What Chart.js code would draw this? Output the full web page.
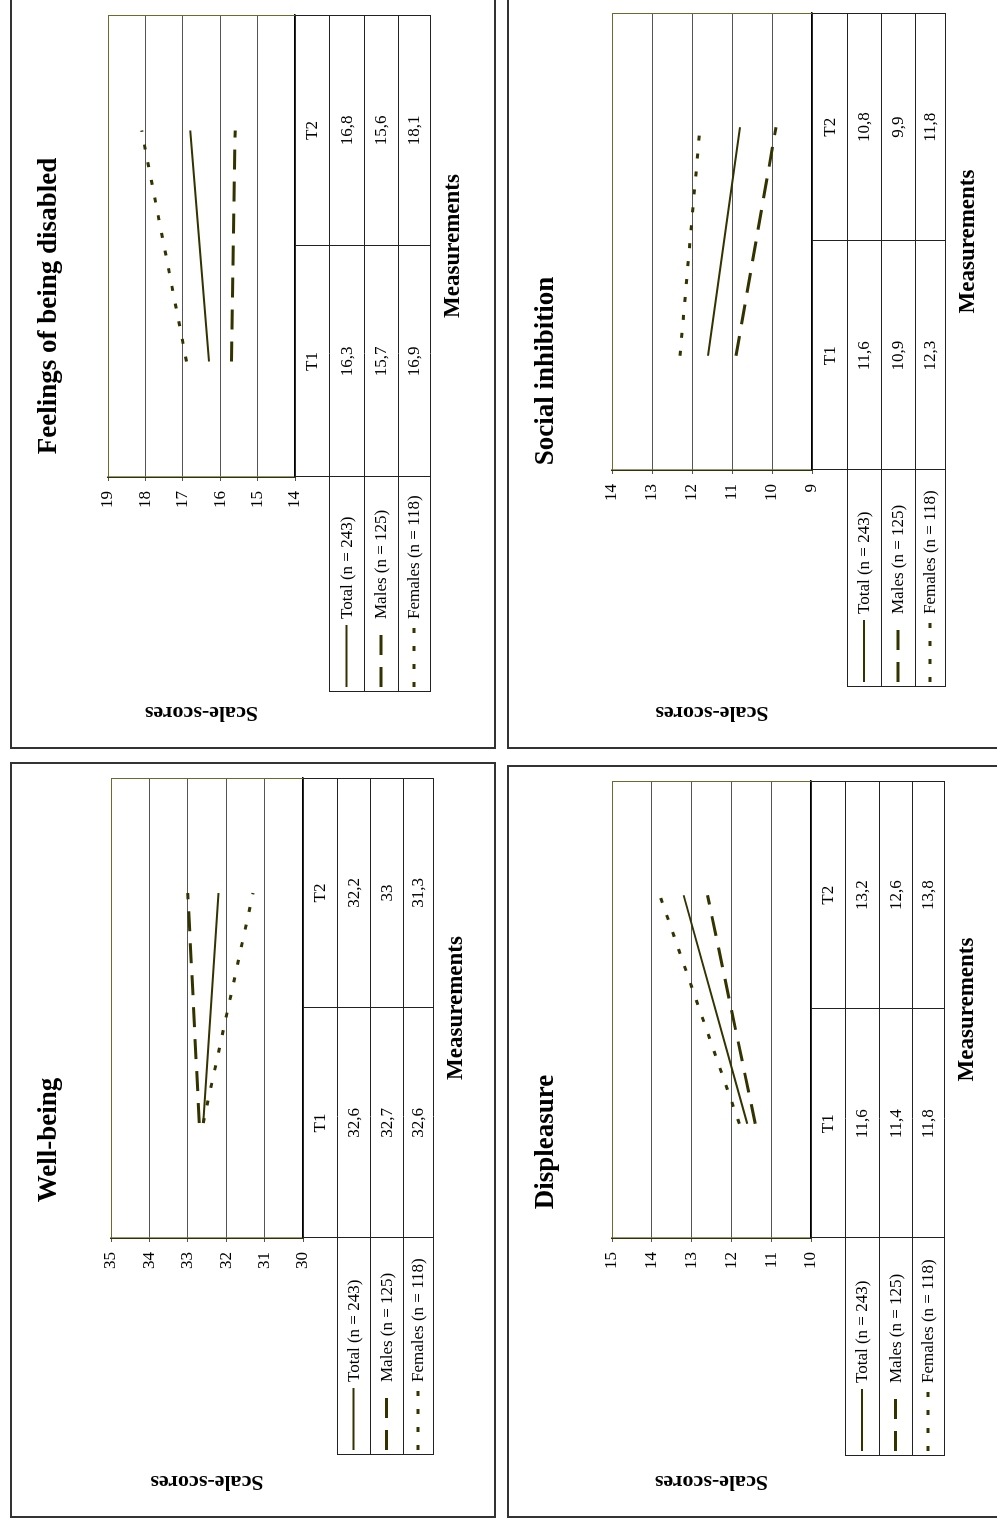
<!DOCTYPE html>
<html lang="en">
<head>
  <meta charset="UTF-8">
  <title>Scale-scores at T1 and T2</title>
  <script src="https://cdn.jsdelivr.net/npm/chart.js"></script>
  <style>
    body { margin: 0; background: #fff; width: 997px; height: 1522px; overflow: hidden; position: relative; }
    .panel { position: absolute; border: 2px solid #333; box-sizing: border-box; }
    /* every chart is drawn upright and then turned a quarter turn, like the scanned page */
    canvas.rot { position: absolute; transform-origin: 0 0; transform: rotate(-90deg); }
  </style>
</head>
<body>
  <div class="panel" style="left:10px;top:-10px;width:486px;height:759px"></div>
  <div class="panel" style="left:10px;top:762px;width:486px;height:756px"></div>
  <div class="panel" style="left:507px;top:-10px;width:503px;height:759px"></div>
  <div class="panel" style="left:507px;top:765px;width:503px;height:753px"></div>

  <canvas id="feelings" class="rot"></canvas>
  <canvas id="wellbeing" class="rot"></canvas>
  <canvas id="social" class="rot"></canvas>
  <canvas id="displeasure" class="rot"></canvas>

  <script>
    // categories and legend names
    var measurements = ['T1', 'T2'];
    var groups = ['Total (n = 243)', 'Males (n = 125)', 'Females (n = 118)'];

    // Feelings of being disabled
    var feelingsTotal = [16.3, 16.8];
    var feelingsMales = [15.7, 15.6];
    var feelingsFemales = [16.9, 18.1];
    var feelingsRange = [14, 19];

    // Well-being
    var wellbeingTotal = [32.6, 32.2];
    var wellbeingMales = [32.7, 33];
    var wellbeingFemales = [32.6, 31.3];
    var wellbeingRange = [30, 35];

    // Social inhibition
    var socialTotal = [11.6, 10.8];
    var socialMales = [10.9, 9.9];
    var socialFemales = [12.3, 11.8];
    var socialRange = [9, 14];

    // Displeasure
    var displeasureTotal = [11.6, 13.2];
    var displeasureMales = [11.4, 12.6];
    var displeasureFemales = [11.8, 13.8];
    var displeasureRange = [10, 15];

    var ink = '#333300';
    var serif = "'Liberation Serif', 'Times New Roman', serif";
    var lineWidths = [2, 3, 3];
    var lineDashes = [[], [20, 12], [5, 13]];

    // box = panel on the page; area/rows/legendLeft/titleX are in the upright chart's pixels
    var panels = [
      { id: 'feelings', title: 'Feelings of being disabled', series: [feelingsTotal, feelingsMales, feelingsFemales], range: feelingsRange,
        box: { x: 10, y: -10, w: 486, h: 759 }, area: { l: 272, r: 734, t: 98, b: 285 }, rows: [319, 354, 388, 420], legendLeft: 57, titleX: 443 },
      { id: 'wellbeing', title: 'Well-being', series: [wellbeingTotal, wellbeingMales, wellbeingFemales], range: wellbeingRange,
        box: { x: 10, y: 762, w: 486, h: 756 }, area: { l: 280, r: 740, t: 101, b: 293 }, rows: [327, 360, 393, 423], legendLeft: 63, titleX: 378 },
      { id: 'social', title: 'Social inhibition', series: [socialTotal, socialMales, socialFemales], range: socialRange,
        box: { x: 507, y: -10, w: 503, h: 759 }, area: { l: 279, r: 736, t: 105, b: 305 }, rows: [340, 374, 408, 438], legendLeft: 62, titleX: 378 },
      { id: 'displeasure', title: 'Displeasure', series: [displeasureTotal, displeasureMales, displeasureFemales], range: displeasureRange,
        box: { x: 507, y: 765, w: 503, h: 753 }, area: { l: 280, r: 737, t: 105, b: 304 }, rows: [338, 372, 405, 437], legendLeft: 62, titleX: 376 }
    ];

    function fmt(v) { return String(v).replace('.', ','); }

    function line(ctx, x1, y1, x2, y2) {
      ctx.beginPath(); ctx.moveTo(x1, y1); ctx.lineTo(x2, y2); ctx.stroke();
    }

    // title, olive plot frame and the data table under the plot (Excel style)
    // o.rows = bottom edges of header, Total, Males and Females rows
    var panelDecor = {
      id: 'panelDecor',
      afterDraw: function(chart, args, o) {
        var ctx = chart.ctx, a = chart.chartArea, xs = chart.scales.x;
        var rows = o.rows, legL = o.legendLeft;
        var c0 = xs.getPixelForValue(0), c1 = xs.getPixelForValue(1);
        var mid = Math.round((c0 + c1) / 2) + 0.5;
        var last = rows[rows.length - 1];
        ctx.save();

        ctx.lineWidth = 1;
        ctx.strokeStyle = '#6b6b2e';
        line(ctx, a.left, a.top + 0.5, a.right, a.top + 0.5);
        line(ctx, a.right - 0.5, a.top, a.right - 0.5, a.bottom);

        ctx.strokeStyle = '#222';
        rows.forEach(function(v) { line(ctx, legL, v + 0.5, a.right, v + 0.5); });
        line(ctx, legL + 0.5, rows[0], legL + 0.5, last);
        line(ctx, a.left + 0.5, a.bottom, a.left + 0.5, last);
        line(ctx, mid, a.bottom, mid, last);
        line(ctx, a.right - 0.5, a.bottom, a.right - 0.5, last);

        ctx.fillStyle = '#000';
        ctx.font = '17px ' + serif;
        ctx.textAlign = 'center';
        ctx.textBaseline = 'middle';
        measurements.forEach(function(m, i) {
          ctx.fillText(m, xs.getPixelForValue(i), (a.bottom + rows[0]) / 2 + 1);
        });

        chart.data.datasets.forEach(function(ds, r) {
          var cy = (rows[r] + rows[r + 1]) / 2 + 1;
          ctx.textAlign = 'center';
          ds.data.forEach(function(val, i) { ctx.fillText(fmt(val), xs.getPixelForValue(i), cy); });

          ctx.save();
          ctx.strokeStyle = ds.borderColor;
          ctx.lineWidth = ds.borderWidth;
          ctx.setLineDash(ds.borderDash);
          line(ctx, legL + 5, cy - 1, legL + 67, cy - 1);
          ctx.restore();

          ctx.textAlign = 'left';
          ctx.fillText(ds.label, legL + 73, cy);
        });

        ctx.font = 'bold 27px ' + serif;
        ctx.textAlign = 'center';
        ctx.textBaseline = 'alphabetic';
        ctx.fillText(o.title, o.titleX, 46);
        ctx.restore();
      }
    };

    function makeChart(p) {
      var cv = document.getElementById(p.id);
      var a = p.area;
      var upW = p.box.h, upH = p.box.w;   // upright size of the chart
      cv.width = upW;
      cv.height = upH;
      cv.style.left = p.box.x + 'px';
      cv.style.top = (p.box.y + p.box.h) + 'px';

      var xTitleSize = 23, xTitleLH = xTitleSize * 1.2;
      var xTitleCenter = p.rows[3] + 23;
      var xAxisH = xTitleCenter - a.b + xTitleLH / 2;
      var yTitleSize = 22, yTitleLH = yTitleSize * 1.2;

      new Chart(cv, {
        type: 'line',
        data: {
          labels: measurements,
          datasets: groups.map(function(g, i) {
            return {
              label: g,
              data: p.series[i],
              borderColor: ink,
              borderWidth: lineWidths[i],
              borderDash: lineDashes[i],
              borderCapStyle: 'butt',
              pointRadius: 0,
              fill: false,
              tension: 0
            };
          })
        },
        options: {
          responsive: false,
          animation: false,
          devicePixelRatio: 1,
          events: [],
          layout: { padding: { left: 0, top: a.t, right: upW - a.r, bottom: upH - a.b - xAxisH } },
          plugins: {
            legend: { display: false },
            tooltip: { enabled: false },
            panelDecor: { title: p.title, titleX: p.titleX, rows: p.rows, legendLeft: p.legendLeft }
          },
          scales: {
            x: {
              type: 'category',
              offset: true,
              grid: { display: false },
              ticks: { display: false },
              border: { display: true, color: '#000', width: 1.5 },
              title: {
                display: true, text: 'Measurements', color: '#000',
                font: { family: serif, size: xTitleSize, weight: 'bold' },
                padding: { top: xTitleCenter - a.b - xTitleLH / 2, bottom: 0 }
              },
              afterFit: function(s) { s.height = xAxisH; }
            },
            y: {
              min: p.range[0],
              max: p.range[1],
              ticks: { stepSize: 1, color: '#000', padding: 10, font: { family: serif, size: 17 } },
              grid: { color: '#555', lineWidth: 1, tickLength: 4 },
              border: { display: true, color: ink, width: 1.5 },
              title: {
                display: true, text: 'Scale-scores', color: '#000',
                font: { family: serif, size: yTitleSize, weight: 'bold' },
                padding: { top: 36 - yTitleLH / 2, bottom: 0 }
              },
              afterFit: function(s) { s.width = a.l; }
            }
          }
        },
        plugins: [panelDecor]
      });
    }

    panels.forEach(makeChart);
  </script>
</body>
</html>
